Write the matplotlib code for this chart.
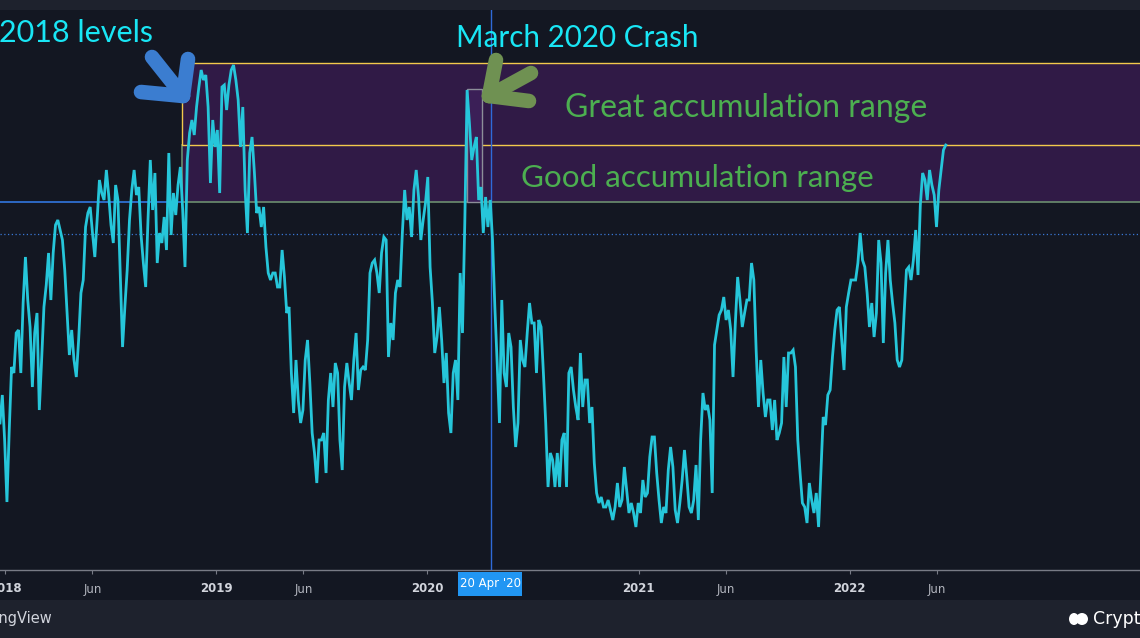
import numpy as np
import pandas as pd
import matplotlib
matplotlib.use("Agg")
import matplotlib.pyplot as plt
import matplotlib.dates as mdates
from matplotlib.patches import Rectangle, Ellipse
from matplotlib.lines import Line2D

# ---------------- data ----------------
start_date = "2017-12-23"
step = "4D"
values = [
    29.4, 35.0, 26.0, 13.6, 28.0, 40.6, 39.4, 47.4, 48.0, 39.4,
    53.4, 62.6, 54.0, 48.6, 36.6, 47.4, 51.4, 32.0, 42.0, 52.6,
    57.0, 63.4, 54.0, 63.4, 69.0, 70.0, 68.0, 66.0, 60.0, 51.4,
    43.0, 48.0, 42.0, 38.6, 46.0, 55.4, 58.0, 68.6, 71.4, 72.6,
    67.4, 62.6, 70.0, 78.0, 75.4, 74.0, 80.0, 75.0, 69.0, 65.4,
    77.0, 74.0, 59.4, 44.6, 52.6, 60.0, 70.0, 76.0, 80.0, 75.0,
    76.6, 67.0, 61.4, 56.6, 70.0, 82.0, 72.0, 79.4, 61.4, 67.4,
    65.4, 70.6, 64.0, 83.4, 67.0, 75.4, 71.0, 77.0, 80.6, 72.0,
    60.6, 82.0, 87.4, 90.0, 87.0, 92.6, 96.6, 100.0, 98.0, 99.0,
    92.6, 77.4, 90.0, 84.6, 88.0, 75.4, 96.6, 97.0, 92.0, 97.0,
    100.0, 101.0, 98.0, 94.0, 84.6, 92.6, 76.0, 67.4, 83.4, 86.6,
    79.6, 71.4, 72.6, 68.6, 72.6, 64.6, 59.4, 58.0, 59.4, 59.4,
    56.6, 56.6, 64.0, 58.6, 51.4, 52.6, 39.4, 31.4, 42.0, 34.0,
    29.4, 32.0, 42.0, 46.0, 37.4, 27.4, 23.4, 17.4, 26.0, 26.0,
    27.4, 19.4, 34.0, 39.4, 32.6, 41.4, 39.4, 26.0, 20.0, 36.6,
    41.4, 37.4, 34.0, 42.0, 47.4, 36.0, 40.0, 40.6, 40.0, 46.0,
    59.4, 61.4, 62.0, 59.4, 55.4, 63.4, 66.6, 66.0, 42.6, 49.4,
    46.0, 55.4, 58.0, 56.6, 67.4, 76.0, 70.0, 72.6, 66.6, 76.0,
    80.0, 74.6, 66.0, 70.0, 73.4, 78.6, 60.6, 53.4, 43.4, 46.6,
    52.6, 46.0, 37.4, 43.4, 31.4, 27.4, 39.4, 42.0, 34.0, 59.4,
    47.4, 69.4, 96.0, 89.4, 82.0, 84.6, 86.6, 74.0, 76.6, 67.4,
    74.6, 68.6, 74.0, 66.0, 52.6, 41.4, 29.4, 54.0, 39.4, 36.6,
    47.4, 44.6, 32.6, 24.6, 29.4, 46.0, 42.0, 40.6, 47.4, 53.4,
    49.4, 49.4, 39.4, 50.0, 48.6, 39.4, 29.4, 16.6, 23.4, 22.0,
    16.6, 23.4, 16.6, 26.0, 27.4, 16.6, 39.4, 40.6, 36.0, 32.6,
    30.0, 43.4, 32.6, 38.0, 38.0, 29.4, 32.6, 21.4, 15.4, 13.4,
    14.6, 12.6, 12.6, 14.0, 12.0, 10.0, 12.6, 17.4, 12.6, 14.0,
    20.6, 16.0, 11.4, 13.4, 11.4, 8.6, 13.4, 11.4, 18.0, 14.6,
    15.4, 22.6, 26.6, 26.6, 19.4, 14.0, 9.4, 12.6, 11.4, 20.0,
    24.6, 20.6, 12.0, 9.4, 13.4, 18.0, 24.0, 18.6, 12.6, 11.4,
    14.0, 21.0, 10.0, 26.0, 35.4, 32.0, 33.0, 30.0, 15.4, 45.0,
    48.0, 51.0, 52.0, 54.6, 50.0, 52.0, 48.0, 38.6, 49.4, 58.6,
    54.0, 48.6, 51.4, 54.0, 54.0, 61.4, 58.0, 44.0, 32.6, 42.0,
    35.4, 30.6, 34.0, 34.0, 28.0, 34.0, 26.0, 27.4, 29.4, 42.6,
    32.6, 43.4, 43.4, 44.0, 40.6, 26.0, 19.4, 13.4, 12.6, 9.4,
    17.4, 14.0, 11.4, 15.4, 8.6, 19.4, 30.6, 29.0, 35.0, 36.0,
    42.6, 48.0, 52.0, 52.6, 46.0, 40.0, 52.6, 55.4, 58.0, 58.0,
    58.0, 61.4, 67.4, 62.0, 60.6, 55.4, 48.6, 53.4, 46.6, 51.4,
    66.0, 61.4, 45.4, 59.4, 66.0, 58.0, 53.4, 49.4, 42.0, 40.6,
    42.0, 51.4, 60.0, 60.6, 58.0, 62.0, 68.0, 59.0, 73.0, 79.4,
    78.0, 74.0, 80.0, 77.0, 75.0, 68.6, 76.0, 80.0, 84.0, 85.0,
]

great_range = (85.0, 101.4)
good_range = (73.6, 85.0)
dotted_level = 67.2
range_start = "2018-11-03"
crash_box = ("2020-03-10", "2020-04-05", 73.6, 96.2)
crosshair_date = "2020-04-20"
crosshair_label = "20 Apr '20"
x_limits = ("2017-12-23", "2023-05-18")
y_limits = (0, 112)

tick_dates = ["2018-01-01", "2018-06-01", "2019-01-01", "2019-06-01", "2020-01-01",
              "2021-01-01", "2021-06-01", "2022-01-01", "2022-06-01"]
tick_labels = ["2018", "Jun", "2019", "Jun", "2020", "2021", "Jun", "2022", "Jun"]

# ---------------- style ----------------
W, H = 1140, 638
BG = "#131722"
BAR = "#1e222d"
LINE = "#26c6da"
PURPLE = "#301a46"
YELLOW = "#f2c94c"
GOOD_EDGE = "#6b8e70"
BLUE = "#2f6fd0"
CYAN_TXT = "#19e6f5"
GREEN_TXT = "#4caf50"
TXT_FONT = ["Lato", "DejaVu Sans"]


def fx(x):
    return x / W


def fy(y):
    return 1 - y / H


def d(s):
    return mdates.date2num(pd.Timestamp(s))


fig = plt.figure(figsize=(W / 100, H / 100), dpi=100, facecolor=BAR)

# chart background (plot + time axis strip), kept behind the axes
fig.patches.append(Rectangle((0, fy(600)), 1, fy(10) - fy(600), transform=fig.transFigure,
                             facecolor=BG, edgecolor="none", zorder=-5))

ax = fig.add_axes([0, fy(570), 1, fy(10) - fy(570)])
ax.set_facecolor(BG)

dates = pd.date_range(start_date, periods=len(values), freq=step)

x0, x1 = d(x_limits[0]), d(x_limits[1])
rs = d(range_start)

# accumulation ranges
ax.add_patch(Rectangle((rs, good_range[0]), x1 + 100 - rs, good_range[1] - good_range[0],
                       facecolor=PURPLE, edgecolor=GOOD_EDGE, lw=1.2, zorder=1))
ax.add_patch(Rectangle((rs, great_range[0]), x1 + 100 - rs, great_range[1] - great_range[0],
                       facecolor=PURPLE, edgecolor=YELLOW, lw=1.0, zorder=1.5))
ax.hlines(good_range[0], x0 - 10, rs, color=BLUE, lw=1.3, zorder=1.6)
ax.axhline(dotted_level, color="#3a78d6", lw=0.9, ls=(0, (1, 2)), zorder=1.6)

# March 2020 crash box
cb0, cb1 = d(crash_box[0]), d(crash_box[1])
ax.add_patch(Rectangle((cb0, crash_box[2]), cb1 - cb0, crash_box[3] - crash_box[2],
                       facecolor="#3b1f57", edgecolor="#8c8f99", lw=1.0, zorder=2))

# crosshair
ax.axvline(d(crosshair_date), color="#2f6ad9", lw=1.0, zorder=3)

# series
ax.plot(dates, values, color=LINE, lw=2.0, zorder=4, solid_joinstyle="miter")

ax.set_xlim(x0, x1)
ax.set_ylim(*y_limits)
for side in ["top", "left", "right"]:
    ax.spines[side].set_visible(False)
ax.spines["bottom"].set_color("#787b86")
ax.spines["bottom"].set_linewidth(1.0)
ax.set_yticks([])
ax.set_xticks([d(t) for t in tick_dates])
ax.set_xticklabels(tick_labels)
ax.tick_params(axis="x", direction="out", length=3, width=0.8, color="#787b86", pad=6)
for lab in ax.get_xticklabels():
    lab.set_fontsize(8.5)
    if lab.get_text() == "Jun":
        lab.set_color("#b2b5be")
    else:
        lab.set_color("#d1d4dc")
        lab.set_fontweight("bold")

# crosshair date label
fig.patches.append(Rectangle((fx(458), fy(596)), fx(522) - fx(458), fy(572) - fy(596),
                             transform=fig.transFigure, facecolor="#2196f3",
                             edgecolor="none", zorder=5))
fig.text(fx(490), fy(584), crosshair_label, color="white", fontsize=8.5,
         ha="center", va="center", zorder=6)

# annotations
fig.text(fx(-1), fy(42), "2018 levels", color=CYAN_TXT, fontsize=22,
         family=TXT_FONT, ha="left", va="baseline")
fig.text(fx(456), fy(47), "March 2020 Crash", color=CYAN_TXT, fontsize=21.3,
         family=TXT_FONT, ha="left", va="baseline")
fig.text(fx(565), fy(117), "Great accumulation range", color=GREEN_TXT, fontsize=23,
         family=TXT_FONT, ha="left", va="baseline")
fig.text(fx(521), fy(187), "Good accumulation range", color=GREEN_TXT, fontsize=22.6,
         family=TXT_FONT, ha="left", va="baseline")


def fat_arrow(tip, tail, arm1, arm2, color):
    for end in (tail, arm1, arm2):
        fig.add_artist(Line2D([fx(tip[0]), fx(end[0])], [fy(tip[1]), fy(end[1])],
                              transform=fig.transFigure, color=color, lw=10.5,
                              solid_capstyle="round", zorder=7))


fat_arrow((183, 96), (152, 57), (188, 59), (141, 92), "#3b7dd0")
fat_arrow((489, 96), (531, 73), (496, 60), (529, 101), "#6f9152")

# footer
fig.text(fx(52), fy(619), "TradingView", color="#d1d4dc", fontsize=10.5,
         ha="right", va="center")
fig.patches.append(Ellipse((fx(1074), fy(619)), 10 / W, 12 / H, transform=fig.transFigure,
                           facecolor="white", edgecolor="none"))
fig.patches.append(Ellipse((fx(1082), fy(619)), 12 / W, 12 / H, transform=fig.transFigure,
                           facecolor="white", edgecolor="none"))
fig.text(fx(1093), fy(619), "CryptoPotato", color="white", fontsize=12.5,
         ha="left", va="center")

fig.savefig("out.png", dpi=100, facecolor=fig.get_facecolor())
